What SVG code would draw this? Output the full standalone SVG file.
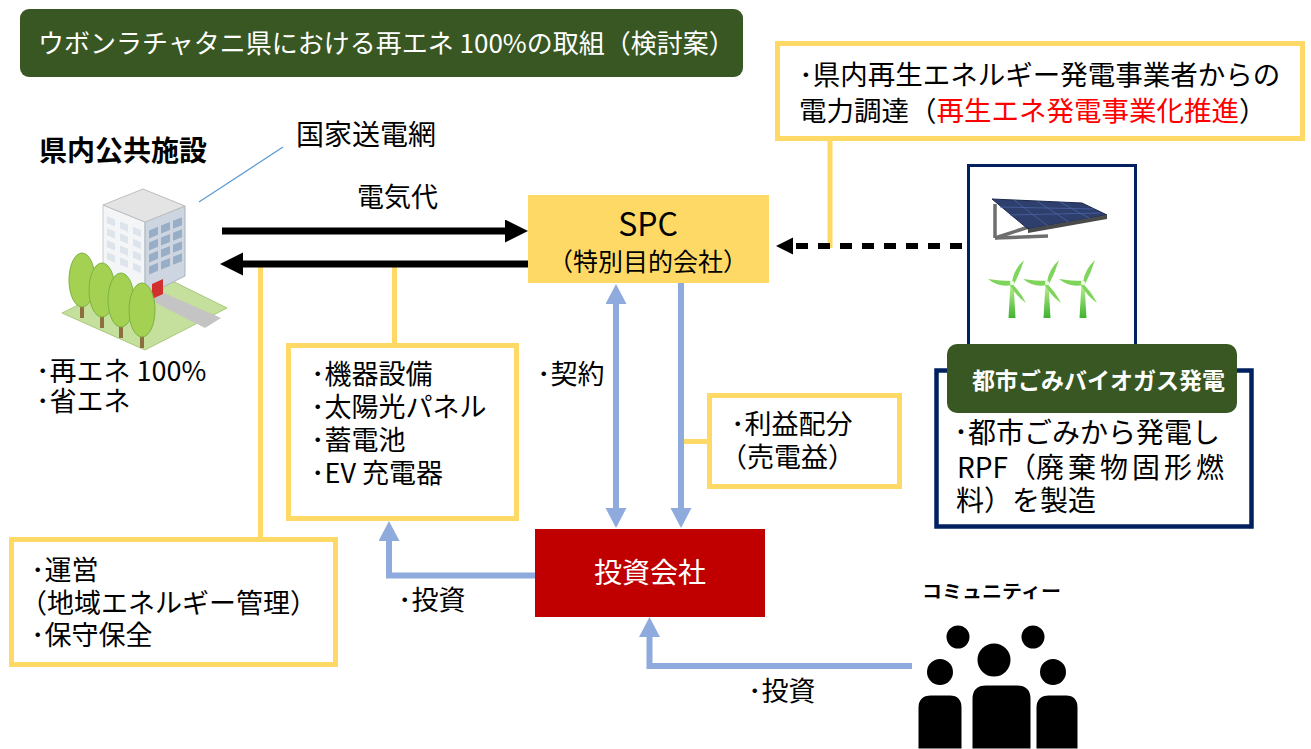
<svg xmlns="http://www.w3.org/2000/svg" width="1311" height="749" viewBox="0 0 1311 749">
  <style>
    text { font-family: "Noto Sans CJK JP", "Noto Sans", sans-serif; fill: #000; }
    .body { font-size: 27px; }
    .lbl { font-size: 27px; }
    .yel { fill: none; stroke: #FFD966; stroke-width: 5; }
    .navy { fill: #fff; stroke: #002060; }
    .blue { fill: none; stroke: #8FAADC; stroke-width: 6; }
    .blk { fill: none; stroke: #000; stroke-width: 7; }
    .white { fill: #fff; }
    .red { fill: #FF0000; }
  </style>
  <defs>
    <marker id="headBlack" markerUnits="userSpaceOnUse" markerWidth="24" markerHeight="24" refX="0" refY="11.5" orient="auto">
      <path d="M0,0 L23,11.5 L0,23 Z" fill="#000"/>
    </marker>
    <marker id="headDash" markerUnits="userSpaceOnUse" markerWidth="18" markerHeight="18" refX="0" refY="8.5" orient="auto">
      <path d="M0,0 L17,8.5 L0,17 Z" fill="#000"/>
    </marker>
    <marker id="headBlue" markerUnits="userSpaceOnUse" markerWidth="22" markerHeight="22" refX="0" refY="10.5" orient="auto-start-reverse">
      <path d="M0,0 L20,10.5 L0,21 Z" fill="#8FAADC"/>
    </marker>
    <linearGradient id="tower" x1="0" y1="0" x2="0" y2="1">
      <stop offset="0" stop-color="#c4f29a"/>
      <stop offset="1" stop-color="#3fb32e"/>
    </linearGradient>
  </defs>

  <!-- title banner -->
  <g id="title">
    <rect x="20" y="9" width="723" height="68" rx="9" fill="#385723"/>
    <text x="38" y="53" style="font-size:26px" class="white">ウボンラチャタニ県における再エネ 100%の取組（検討案）</text>
  </g>

  <!-- connectors -->
  <g id="connectors">
    <!-- yellow attachment lines -->
    <line class="yel" x1="830" y1="140" x2="830" y2="248"/>
    <line class="yel" x1="260.5" y1="266" x2="260.5" y2="537"/>
    <line class="yel" x1="394.5" y1="266" x2="394.5" y2="343"/>
    <line class="yel" x1="684" y1="441.5" x2="707" y2="441.5"/>
    <!-- grid line pointer -->
    <line x1="199" y1="202" x2="283" y2="147" stroke="#5B9BD5" stroke-width="1.3"/>
    <!-- power / payment flows -->
    <line class="blk" x1="222" y1="231" x2="505" y2="231" marker-end="url(#headBlack)"/>
    <line class="blk" x1="528" y1="264" x2="243" y2="264" marker-end="url(#headBlack)"/>
    <line x1="962" y1="246" x2="793" y2="246" stroke="#000" stroke-width="6" stroke-dasharray="12 10" marker-end="url(#headDash)"/>
    <!-- contract / investment flows -->
    <line class="blue" x1="616" y1="304" x2="616" y2="508" marker-start="url(#headBlue)" marker-end="url(#headBlue)"/>
    <line class="blue" x1="681" y1="283" x2="681" y2="508" marker-end="url(#headBlue)"/>
    <path class="blue" d="M535,575.5 H389 V541" marker-end="url(#headBlue)"/>
    <path class="blue" d="M912,666 H649.5 V637" marker-end="url(#headBlue)"/>
    <!-- flow labels -->
    <text class="lbl" x="357" y="207">電気代</text>
    <text class="lbl" x="537" y="384">･契約</text>
    <text class="lbl" x="398" y="610">･投資</text>
    <text class="lbl" x="748" y="701">･投資</text>
  </g>

  <!-- public facility -->
  <g id="facility">
    <text x="39" y="161" style="font-size:28px;font-weight:bold">県内公共施設</text>
    <text x="296" y="145" style="font-size:28px">国家送電網</text>
    <!-- ground -->
    <polygon points="62,313 150,270 227,308 145,350" fill="#c5df9c" stroke="#a9c97a" stroke-width="1"/>
    <polygon points="150,300 164,293 221,318 205,328" fill="#c4c4c4"/>
    <!-- building -->
    <polygon points="103,205 145,222 145,296 103,279" fill="#f3f5f7" stroke="#c8ccd0" stroke-width="1"/>
    <polygon points="145,222 185,206 185,276 145,296" fill="#cdd6e0" stroke="#aab4be" stroke-width="1"/>
    <polygon points="103,205 143,189 185,206 145,222" fill="#e4e4e4" stroke="#bdbdbd" stroke-width="1"/>
    <g transform="matrix(1,0.405,0,1,0,0)" fill="#dde4ec">
      <rect x="107" y="173" width="8" height="7"/><rect x="120" y="173" width="8" height="7"/><rect x="133" y="173" width="8" height="7"/>
      <rect x="107" y="185" width="8" height="7"/><rect x="120" y="185" width="8" height="7"/><rect x="133" y="185" width="8" height="7"/>
      <rect x="107" y="197" width="8" height="7"/><rect x="120" y="197" width="8" height="7"/><rect x="133" y="197" width="8" height="7"/>
      <rect x="107" y="209" width="8" height="7"/><rect x="120" y="209" width="8" height="7"/><rect x="133" y="209" width="8" height="7"/>
    </g>
    <g transform="matrix(1,-0.4,0,1,0,0)" fill="#98adc6">
      <rect x="149" y="290" width="9" height="8"/><rect x="161" y="290" width="9" height="8"/><rect x="173" y="290" width="9" height="8"/>
      <rect x="149" y="302" width="9" height="8"/><rect x="161" y="302" width="9" height="8"/><rect x="173" y="302" width="9" height="8"/>
      <rect x="149" y="314" width="9" height="8"/><rect x="161" y="314" width="9" height="8"/><rect x="173" y="314" width="9" height="8"/>
      <rect x="149" y="326" width="9" height="8"/><rect x="161" y="326" width="9" height="8"/><rect x="173" y="326" width="9" height="8"/>
    </g>
    <polygon points="152,284 163,279 163,294 152,299" fill="#d32f2f"/>
    <!-- trees -->
    <g stroke="#7cb342" stroke-width="1">
      <rect x="80" y="300" width="4" height="18" fill="#8d6e3f" stroke="none"/>
      <ellipse cx="82" cy="280" rx="13" ry="27" fill="#a5d152"/>
      <rect x="100" y="310" width="4" height="18" fill="#8d6e3f" stroke="none"/>
      <ellipse cx="102" cy="290" rx="13" ry="27" fill="#a5d152"/>
      <rect x="119" y="320" width="4" height="18" fill="#8d6e3f" stroke="none"/>
      <ellipse cx="121" cy="300" rx="13" ry="27" fill="#a5d152"/>
      <rect x="140" y="330" width="4" height="18" fill="#8d6e3f" stroke="none"/>
      <ellipse cx="142" cy="310" rx="13" ry="27" fill="#a5d152"/>
    </g>
    <text class="body" x="36" y="381">･再エネ 100%</text>
    <text class="body" x="36" y="411">･省エネ</text>
  </g>

  <!-- procurement note -->
  <g id="procurement">
    <rect class="yel" x="777.5" y="43.5" width="525" height="95" fill="#fff"/>
    <text x="799" y="85" style="font-size:27.5px">･県内再生エネルギー発電事業者からの</text>
    <text x="799" y="121" style="font-size:27.5px">電力調達（<tspan class="red">再生エネ発電事業化推進</tspan>）</text>
  </g>

  <!-- SPC -->
  <g id="spc">
    <rect x="528" y="195" width="241" height="88" fill="#FFD966"/>
    <text x="648" y="236" text-anchor="middle" style="font-size:32px">SPC</text>
    <text x="648" y="271" text-anchor="middle" style="font-size:25px">（特別目的会社）</text>
  </g>

  <!-- renewable generators -->
  <g id="generators">
    <rect class="navy" x="968.5" y="165.5" width="167" height="190" stroke-width="3"/>
    <!-- solar panel -->
    <g stroke="#6e6e6e" stroke-width="3.5" fill="none">
      <line x1="995" y1="204" x2="995" y2="238"/>
      <line x1="995" y1="238" x2="1048" y2="236"/>
      <line x1="995" y1="238" x2="1038" y2="224"/>
    </g>
    <polygon points="992,199 1082,203 1107,215 1028,229" fill="#2e3f6e" stroke="#1e2a4a" stroke-width="1"/>
    <polygon points="1028,229 1107,215 1107,219 1028,233" fill="#4a4a4a"/>
    <g stroke="#4a63a3" stroke-width="0.8">
      <line x1="1014" y1="200" x2="1048" y2="226"/>
      <line x1="1037" y1="201" x2="1069" y2="222"/>
      <line x1="1060" y1="202" x2="1089" y2="218"/>
      <line x1="1000" y1="207" x2="1094" y2="209"/>
      <line x1="1010" y1="215" x2="1100" y2="213"/>
    </g>
    <!-- wind turbines -->
    <g id="turbine1">
      <polygon points="1010.5,283 1013.5,283 1015.5,318 1008.5,318" fill="url(#tower)"/>
      <path d="M1012,282 Q1014,269 1024,260 Q1020,273 1014,284 Z" fill="#7fd45c"/>
      <path d="M1012,281 Q1000,281 988,279 Q999,288 1012,285 Z" fill="#7fd45c"/>
      <path d="M1011,283 Q1020,291 1026,303 Q1016,296 1010,285 Z" fill="#7fd45c"/>
      <circle cx="1012" cy="283" r="2.2" fill="#e9ffe0"/>
    </g>
    <use href="#turbine1" x="35"/>
    <use href="#turbine1" x="71"/>
  </g>

  <!-- biogas plant -->
  <g id="biogas">
    <rect class="navy" x="936.5" y="370.5" width="315" height="156" stroke-width="4.5"/>
    <rect x="947" y="344" width="290" height="69" rx="10" fill="#385723"/>
    <text x="972" y="389" class="white" style="font-size:23px;font-weight:bold">都市ごみバイオガス発電</text>
    <text x="954" y="443" style="font-size:28px">･都市ごみから発電し</text>
    <text x="957" y="478" style="font-size:28px">RPF（<tspan x="1036 1068 1100 1132 1164 1196">廃棄物固形燃</tspan></text>
    <text x="956" y="511" style="font-size:28px">料）を製造</text>
  </g>

  <!-- equipment -->
  <g id="equipment">
    <rect class="yel" x="288.5" y="345.5" width="228" height="173" fill="#fff"/>
    <text class="body" x="311" y="384">･機器設備</text>
    <text class="body" x="311" y="417">･太陽光パネル</text>
    <text class="body" x="311" y="450">･蓄電池</text>
    <text class="body" x="311" y="483">･EV 充電器</text>
  </g>

  <!-- profit sharing -->
  <g id="profit">
    <rect class="yel" x="709.5" y="395.5" width="190" height="91" fill="#fff"/>
    <text class="body" x="731" y="434">･利益配分</text>
    <text class="body" x="720" y="467">（売電益）</text>
  </g>

  <!-- operation -->
  <g id="operation">
    <rect class="yel" x="11.5" y="539.5" width="324" height="125" fill="#fff"/>
    <text class="body" x="31" y="580">･運営</text>
    <text class="body" x="20" y="613">（地域エネルギー管理）</text>
    <text class="body" x="31" y="645">･保守保全</text>
  </g>

  <!-- investment company -->
  <g id="investor">
    <rect x="535" y="529" width="230" height="88" fill="#C00000"/>
    <text x="650" y="583" text-anchor="middle" class="white" style="font-size:28px">投資会社</text>
  </g>

  <!-- community -->
  <g id="community">
    <text x="922" y="598" style="font-size:18px;font-weight:bold" textLength="139" lengthAdjust="spacingAndGlyphs">コミュニティー</text>
    <g fill="#000" stroke="#fff" stroke-width="3">
      <circle cx="958" cy="637" r="13"/>
      <circle cx="1033" cy="637" r="13"/>
      <circle cx="940" cy="672" r="14.5"/>
      <circle cx="1053" cy="672" r="14.5"/>
      <circle cx="994" cy="660" r="18"/>
      <path d="M917,750 V708 Q917,694 931,694 H950 Q963,694 963,708 V750 Z"/>
      <path d="M1035,750 V708 Q1035,694 1049,694 H1066 Q1079,694 1079,708 V750 Z"/>
      <path d="M971,750 V699 Q971,684 986,684 H1017 Q1032,684 1032,699 V750 Z"/>
    </g>
  </g>
</svg>
